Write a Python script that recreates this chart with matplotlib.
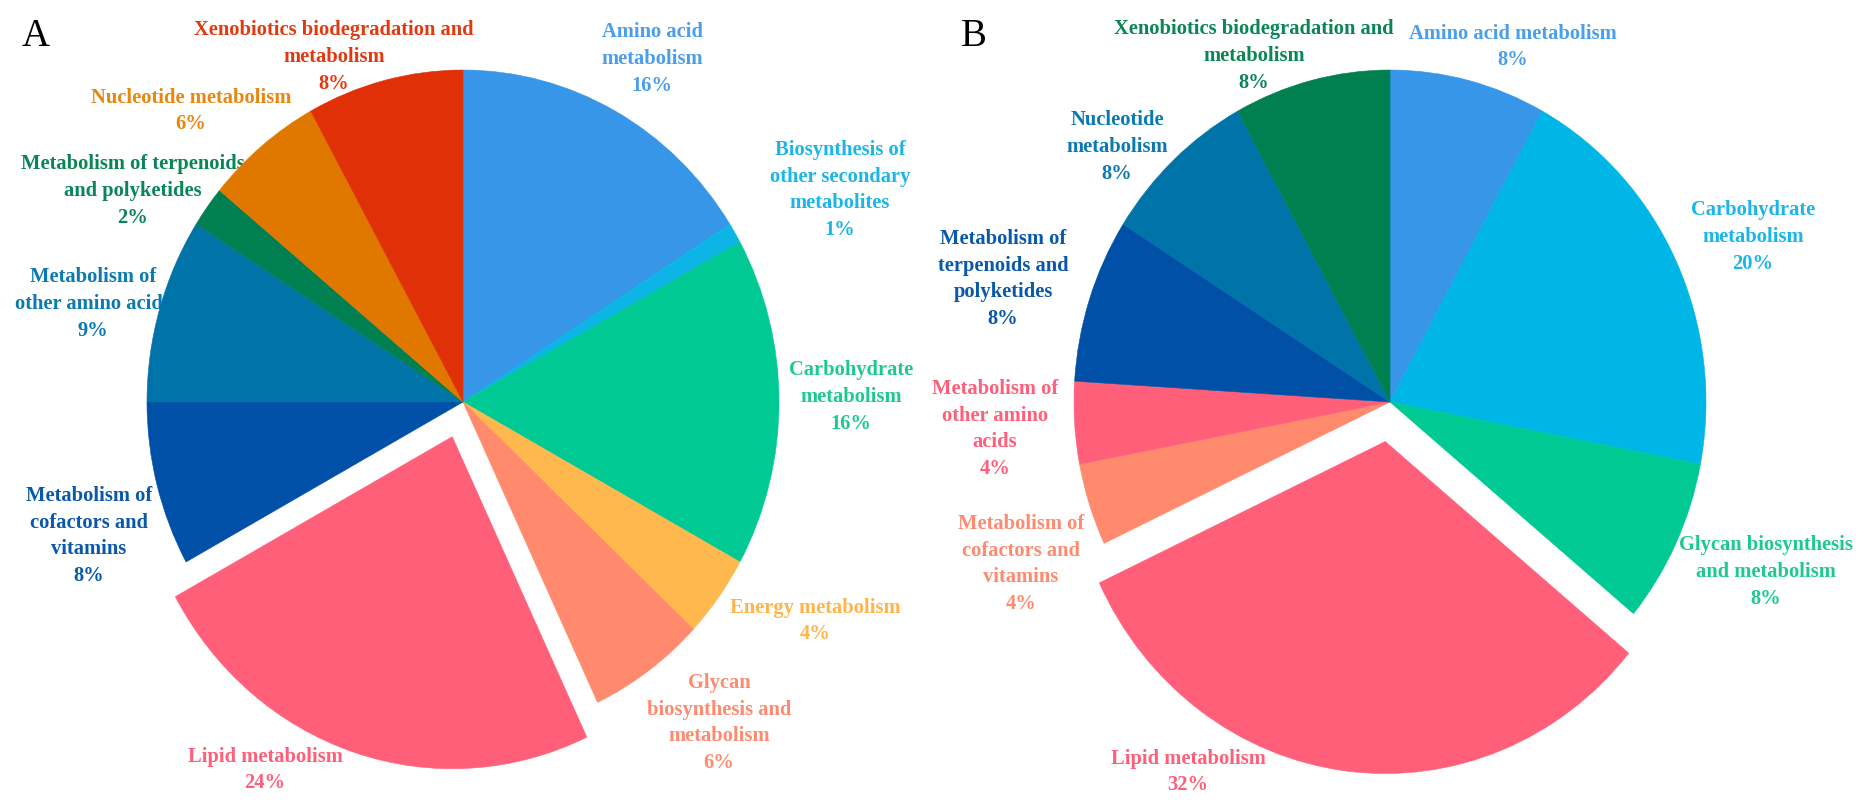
import matplotlib
matplotlib.use("Agg")
import matplotlib.pyplot as plt

# ---------------- data ----------------
cats_a = ["Amino acid metabolism", "Biosynthesis of other secondary metabolites",
          "Carbohydrate metabolism", "Energy metabolism",
          "Glycan biosynthesis and metabolism", "Lipid metabolism",
          "Metabolism of cofactors and vitamins", "Metabolism of other amino acids",
          "Metabolism of terpenoids and polyketides", "Nucleotide metabolism",
          "Xenobiotics biodegradation and metabolism"]
vals_a = [16, 1, 16, 4, 6, 24, 8, 9, 2, 6, 8]
labels_a = ["Amino acid\nmetabolism", "Biosynthesis of\nother secondary\nmetabolites",
            "Carbohydrate\nmetabolism", "Energy metabolism",
            "Glycan\nbiosynthesis and\nmetabolism", "Lipid metabolism",
            "Metabolism of\ncofactors and\nvitamins", "Metabolism of\nother amino acids",
            "Metabolism of terpenoids\nand polyketides", "Nucleotide metabolism",
            "Xenobiotics biodegradation and\nmetabolism"]

cats_b = ["Amino acid metabolism", "Carbohydrate metabolism",
          "Glycan biosynthesis and metabolism", "Lipid metabolism",
          "Metabolism of cofactors and vitamins", "Metabolism of other amino acids",
          "Metabolism of terpenoids and polyketides", "Nucleotide metabolism",
          "Xenobiotics biodegradation and metabolism"]
vals_b = [8, 20, 8, 32, 4, 4, 8, 8, 8]
labels_b = ["Amino acid metabolism", "Carbohydrate\nmetabolism",
            "Glycan biosynthesis\nand metabolism", "Lipid metabolism",
            "Metabolism of\ncofactors and\nvitamins", "Metabolism of\nother amino\nacids",
            "Metabolism of\nterpenoids and\npolyketides", "Nucleotide\nmetabolism",
            "Xenobiotics biodegradation and\nmetabolism"]

# ---------------- styles ----------------
wedge_col_a = ["#3796E8", "#0DB4E6", "#00C994", "#FFB84D", "#FF8A6E", "#FF5F78",
               "#0050A8", "#0073A8", "#008050", "#E07800", "#E03008"]
text_col_a = ["#4A9EEA", "#1BB6E8", "#1DC993", "#FFB54A", "#FF8A70", "#FF5F7A",
              "#0A58AA", "#0A7AB0", "#0A8556", "#E8860E", "#E23A10"]
wedge_col_b = ["#3796E8", "#00B6E6", "#00C994", "#FF5F78", "#FF8A6E", "#FF5F78",
               "#0050A8", "#0073A8", "#008050"]
text_col_b = ["#4A9EEA", "#1BB6E8", "#1DC993", "#FF5F7A", "#FF8A70", "#FF5F7A",
              "#0A58AA", "#0A7AB0", "#0A8556"]
explode_a = [0, 0, 0, 0, 0, 0.11, 0, 0, 0, 0, 0]
explode_b = [0, 0, 0, 0.12, 0, 0, 0, 0, 0]

# label centres in pixels (x from left, y from top)
pos_a = [(652, 59), (840, 190), (851, 397), (815, 621), (719, 723), (265, 770),
         (89, 536), (93, 304), (133, 191), (191, 111), (334, 57)]
pos_b = [(1513, 47), (1753, 237), (1766, 572), (1188, 772), (1021, 564),
         (995, 429), (1003, 279), (1117, 147), (1254, 56)]

W, H, DPI = 1866, 806, 100
RX, RY = 316, 332
FONT = ["Liberation Serif", "DejaVu Serif"]

fig = plt.figure(figsize=(W / DPI, H / DPI), dpi=DPI)
fig.patch.set_facecolor("white")


def draw_pie(cx, cy, vals, cols, explode):
    lim = 1.3
    rect = [(cx - lim * RX) / W, 1 - (cy + lim * RY) / H, 2 * lim * RX / W, 2 * lim * RY / H]
    ax = fig.add_axes(rect)
    wedges, _ = ax.pie(vals, colors=cols, startangle=90, counterclock=False,
                       explode=explode, wedgeprops=dict(linewidth=0.4), radius=1)
    for w in wedges:
        w.set_edgecolor(w.get_facecolor())
    ax.set_aspect("auto")
    ax.set_xlim(-lim, lim)
    ax.set_ylim(-lim, lim)
    ax.axis("off")
    ax.patch.set_visible(False)
    return ax


def draw_labels(labels, vals, cols, pos):
    for lab, v, c, (px, py) in zip(labels, vals, cols, pos):
        fig.text(px / W, 1 - py / H, f"{lab}\n{v}%", color=c, family=FONT,
                 fontweight="bold", fontsize=14.8, ha="center", va="center",
                 multialignment="center", linespacing=1.45, zorder=-1)


draw_pie(463, 402, vals_a, wedge_col_a, explode_a)
draw_pie(1390, 402, vals_b, wedge_col_b, explode_b)
draw_labels(labels_a, vals_a, text_col_a, pos_a)
draw_labels(labels_b, vals_b, text_col_b, pos_b)

fig.text(36 / W, 1 - 37 / H, "A", family=FONT, fontsize=28, ha="center", va="center")
fig.text(974 / W, 1 - 37 / H, "B", family=FONT, fontsize=28, ha="center", va="center")

fig.savefig("out.png", dpi=DPI, facecolor="white")
